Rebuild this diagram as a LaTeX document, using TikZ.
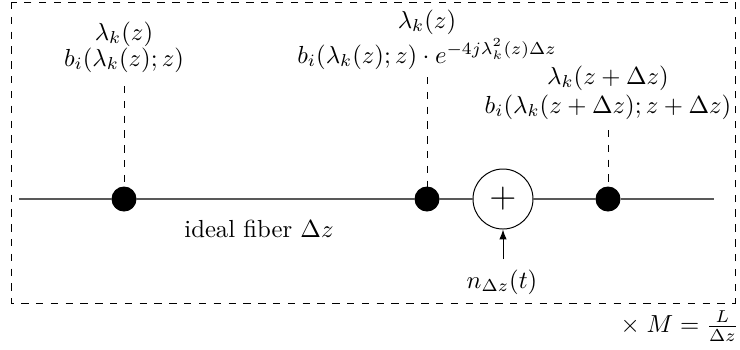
\documentclass[tikz,border=0pt]{standalone}
\usetikzlibrary{arrows.meta}
\begin{document}
\begin{tikzpicture}[x=0.405pt, y=-0.405pt,
  dotnode/.style={circle, fill=black, draw=black, inner sep=0pt, minimum size=24*0.405pt},
  sumnode/.style={circle, draw=black, inner sep=0pt, minimum size=60*0.405pt},
  fiber/.style={draw=black!65, line width=0.45pt},
  probe/.style={dashed, line width=0.4pt},
  lbl/.style={anchor=base, inner sep=0pt}]
\useasboundingbox (0,0) rectangle (740,349);
% frame
\draw[probe] (11,2) rectangle (735,303);
% main line
\coordinate (start) at (19,199);
\coordinate (stop) at (714,199);
\node[dotnode] (d1) at (124,199) {};
\node[dotnode] (d2) at (427,199) {};
\node[sumnode, font=\Large] (sum) at (503,199) {$+$};
\node[dotnode] (d3) at (608,199) {};
\draw[fiber] (start) -- (d1) -- (d2) -- (sum) -- (d3) -- (stop);
% labels
\node[lbl] (a1) at (124,40) {$\lambda_k(z)$};
\node[lbl] (a2) at (124,66) {$b_i(\lambda_k(z);z)$};
\node[lbl] (b1) at (427,28) {$\lambda_k(z)$};
\node[lbl] (b2) at (427,63) {$b_i(\lambda_k(z);z)\cdot e^{-4j\lambda_k^2(z)\Delta z}$};
\node[lbl] (c1) at (608,84) {$\lambda_k(z+\Delta z)$};
\node[lbl] (c2) at (608,113) {$b_i(\lambda_k(z+\Delta z);z+\Delta z)$};
\coordinate (p1) at (124,86);
\coordinate (p2) at (427,77);
\coordinate (p3) at (608,130);
\draw[probe] (p1) -- (d1);
\draw[probe] (p2) -- (d2);
\draw[probe] (p3) -- (d3);
% fiber label
\node[lbl] (fib) at (259,237) {ideal fiber $\Delta z$};
% noise
\node[lbl] (noise) at (502,288) {$n_{\Delta z}(t)$};
\coordinate (ntail) at (503,259);
\draw[-{Latex[length=4pt,width=3pt]}, line width=0.4pt] (ntail) -- (sum);
% repetition
\node[anchor=east, inner sep=0pt] (rep) at (739,326) {$\times\; M=\frac{L}{\Delta z}$};
\end{tikzpicture}
\end{document}
